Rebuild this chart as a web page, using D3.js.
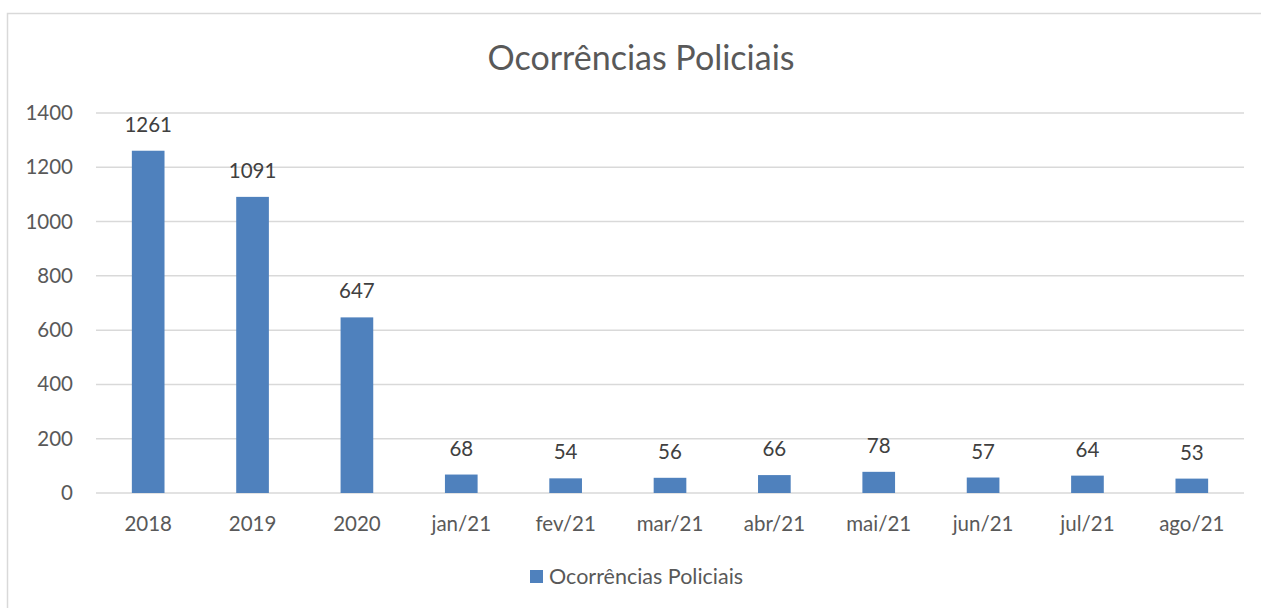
<!DOCTYPE html>
<html>
<head>
<meta charset="utf-8">
<script src="https://cdn.jsdelivr.net/npm/d3@7"></script>
<style>
  html, body { margin: 0; padding: 0; background: #fff; }
  svg { display: block; font-family: Lato, "Open Sans", sans-serif; }
</style>
</head>
<body>
<svg id="chart" width="1261" height="608"></svg>
<script>
// Police occurrences per period
const categories = ["2018", "2019", "2020", "jan/21", "fev/21", "mar/21", "abr/21", "mai/21", "jun/21", "jul/21", "ago/21"];
const values = [1261, 1091, 647, 68, 54, 56, 66, 78, 57, 64, 53];
const yTicks = [0, 200, 400, 600, 800, 1000, 1200, 1400];
const seriesName = "Ocorrências Policiais";
const chartTitle = "Ocorrências Policiais";

const svg = d3.select("#chart");
const W = 1261, H = 608;
const plot = { left: 96, right: 1244, top: 113, bottom: 493 };
const barColor = "#4f81bd";
const labelSize = 20.5;

// outer chart frame
svg.append("rect")
  .attr("x", 7.5).attr("y", 13.5)
  .attr("width", W + 10).attr("height", H)
  .attr("fill", "#fff").attr("stroke", "#d9d9d9").attr("stroke-width", 1.5);

const x = d3.scaleBand()
  .domain(categories)
  .range([plot.left, plot.right])
  .paddingInner(0.687)
  .paddingOuter(0.3435);

const y = d3.scaleLinear()
  .domain([0, 1400])
  .range([plot.bottom, plot.top]);

// horizontal gridlines
svg.append("g")
  .selectAll("line")
  .data(yTicks)
  .join("line")
  .attr("x1", plot.left).attr("x2", plot.right)
  .attr("y1", d => y(d)).attr("y2", d => y(d))
  .attr("stroke", "#d9d9d9").attr("stroke-width", 1.5);

// y axis labels
const yAxis = svg.append("g")
  .attr("transform", `translate(${plot.left - 23},0)`)
  .call(d3.axisLeft(y).tickValues(yTicks).tickFormat(d3.format("d")).tickSize(0).tickPadding(0));
yAxis.select(".domain").remove();
yAxis.selectAll("text")
  .attr("fill", "#595959")
  .attr("font-size", labelSize)
  .attr("font-family", "Lato, sans-serif");

// x axis labels
const xAxis = svg.append("g")
  .attr("transform", `translate(0,${plot.bottom})`)
  .call(d3.axisBottom(x).tickSize(0).tickPadding(0));
xAxis.select(".domain").remove();
xAxis.selectAll("text")
  .attr("y", 38)
  .attr("dy", null)
  .attr("fill", "#595959")
  .attr("font-size", labelSize)
  .attr("font-family", "Lato, sans-serif");

// bars
svg.append("g")
  .selectAll("rect")
  .data(values)
  .join("rect")
  .attr("x", (d, i) => x(categories[i]))
  .attr("width", x.bandwidth())
  .attr("y", d => y(d))
  .attr("height", d => y(0) - y(d))
  .attr("fill", barColor);

// value labels
svg.append("g")
  .selectAll("text")
  .data(values)
  .join("text")
  .attr("x", (d, i) => x(categories[i]) + x.bandwidth() / 2)
  .attr("y", d => y(d) - 19)
  .attr("text-anchor", "middle")
  .attr("fill", "#404040")
  .attr("font-size", labelSize)
  .text(d => d);

// title
svg.append("text")
  .attr("x", 641).attr("y", 70)
  .attr("text-anchor", "middle")
  .attr("fill", "#595959")
  .attr("font-size", 34)
  .text(chartTitle);

// legend
const legend = svg.append("g");
legend.append("rect")
  .attr("x", 530).attr("y", 570)
  .attr("width", 13).attr("height", 13)
  .attr("fill", barColor);
legend.append("text")
  .attr("x", 549).attr("y", 584)
  .attr("fill", "#595959")
  .attr("font-size", 21.5)
  .text(seriesName);
</script>
</body>
</html>
